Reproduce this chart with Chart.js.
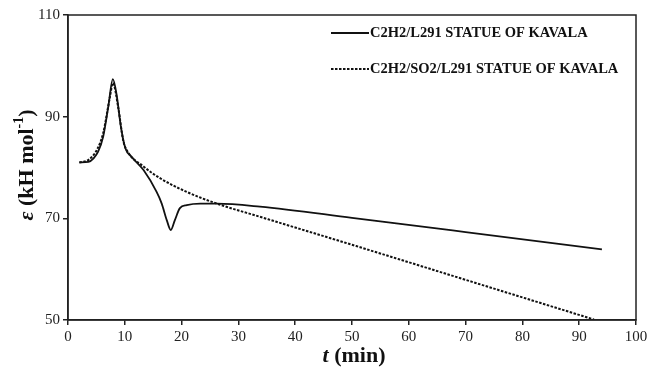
<!DOCTYPE html>
<html lang="en">
<head>
    <meta charset="UTF-8">
    <title>Activation energy vs time</title>
    <script src="https://cdn.jsdelivr.net/npm/chart.js"></script>
    <style>
        body { margin: 0; background: white; }
        #wrap { width: 654px; height: 373px; }
    </style>
</head>
<body>
<div id="wrap"><canvas id="chart"></canvas></div>
<script>
    // values: t (min) and epsilon (kH mol-1)
    const seriesNames = ['C2H2/L291 STATUE OF KAVALA', 'C2H2/SO2/L291 STATUE OF KAVALA'];
    const solidT = [2, 3.6, 4.5, 5.3, 6.2, 7.1, 7.9, 8.6, 9.3, 10.1, 11.2, 13.3, 15.6, 16.5, 17.4, 18.1, 18.8, 19.7, 20.9, 23.3, 26.2, 33.8, 50, 70, 94];
    const solidE = [81, 81.1, 81.8, 83.1, 86.1, 92.0, 97.4, 94.0, 88.1, 83.8, 82.1, 79.5, 75.2, 72.9, 69.6, 67.7, 69.6, 72.0, 72.6, 72.9, 72.9, 72.3, 70.1, 67.3, 63.9];
    const dashT = [2, 3.6, 5.1, 6.2, 7.4, 7.9, 8.9, 9.7, 10.3, 13.3, 16.2, 20.9, 26.2, 33.8, 50, 70, 92.6];
    const dashE = [81, 81.5, 83.5, 86.8, 94, 96.6, 91.4, 85.4, 83.5, 80.2, 77.9, 75.2, 72.9, 70.3, 64.8, 57.9, 50.1];
    const xTicks = [0, 10, 20, 30, 40, 50, 60, 70, 80, 90, 100];
    const yTicks = [50, 70, 90, 110];

    const serif = '"Liberation Serif", "Times New Roman", serif';

    function pts(xs, ys) {
        return xs.map((x, i) => ({ x: x, y: ys[i] }));
    }

    // frame, axis titles and legend drawn on top of the chart area
    const extras = {
        id: 'extras',
        afterDraw(chart) {
            const ctx = chart.ctx;
            const a = chart.chartArea;
            ctx.save();
            ctx.strokeStyle = '#222';
            ctx.lineWidth = 1.5;
            ctx.strokeRect(a.left, a.top, a.right - a.left, a.bottom - a.top);

            // legend
            ctx.fillStyle = '#111';
            ctx.strokeStyle = '#111';
            ctx.textBaseline = 'middle';
            ctx.font = 'bold 14.5px ' + serif;
            chart.data.datasets.forEach((ds, i) => {
                const y = 33 + i * 36;
                ctx.beginPath();
                ctx.setLineDash(ds.borderDash || []);
                ctx.lineWidth = ds.borderWidth;
                ctx.moveTo(331, y);
                ctx.lineTo(369, y);
                ctx.stroke();
                ctx.setLineDash([]);
                ctx.fillText(ds.label, 370, y);
            });

            // x title: t (min)
            drawParts(ctx, [
                { t: 't', f: 'italic bold 22px ' + serif },
                { t: ' (min)', f: 'bold 22px ' + serif }
            ], 354, 356);

            // y title: epsilon (kH mol-1)
            ctx.translate(27, 165);
            ctx.rotate(-Math.PI / 2);
            drawParts(ctx, [
                { t: 'ε', f: 'italic bold 22px ' + serif },
                { t: ' (kH mol', f: 'bold 22px ' + serif },
                { t: '-1', f: 'bold 14px ' + serif, dy: -8 },
                { t: ')', f: 'bold 22px ' + serif }
            ], 0, 0);
            ctx.restore();
        }
    };

    function drawParts(ctx, parts, cx, cy) {
        let w = 0;
        parts.forEach(p => { ctx.font = p.f; w += ctx.measureText(p.t).width; });
        let x = cx - w / 2;
        ctx.textAlign = 'left';
        ctx.textBaseline = 'middle';
        parts.forEach(p => {
            ctx.font = p.f;
            ctx.fillText(p.t, x, cy + (p.dy || 0));
            x += ctx.measureText(p.t).width;
        });
    }

    new Chart(document.getElementById('chart'), {
        type: 'line',
        data: {
            datasets: [
                {
                    label: seriesNames[0],
                    data: pts(solidT, solidE),
                    borderColor: '#111',
                    borderWidth: 1.8,
                    pointRadius: 0,
                    cubicInterpolationMode: 'monotone'
                },
                {
                    label: seriesNames[1],
                    data: pts(dashT, dashE),
                    borderColor: '#111',
                    borderWidth: 2,
                    borderDash: [2.5, 1.5],
                    pointRadius: 0,
                    cubicInterpolationMode: 'monotone'
                }
            ]
        },
        options: {
            responsive: true,
            maintainAspectRatio: false,
            animation: false,
            layout: { padding: { top: 15, right: 18, left: 0, bottom: 0 } },
            plugins: { legend: { display: false }, tooltip: { enabled: false } },
            scales: {
                x: {
                    type: 'linear',
                    min: 0, max: 100,
                    afterBuildTicks: s => { s.ticks = xTicks.map(v => ({ value: v })); },
                    afterFit: s => { s.height = 53; },
                    grid: { drawOnChartArea: false, drawTicks: true, tickLength: 5, color: '#222', lineWidth: 1.5 },
                    border: { color: '#222', width: 1.5 },
                    ticks: { color: '#222', padding: 3, maxRotation: 0, font: { family: serif, size: 15 } }
                },
                y: {
                    min: 50, max: 110,
                    afterBuildTicks: s => { s.ticks = yTicks.map(v => ({ value: v })); },
                    afterFit: s => { s.width = 68; },
                    grid: { drawOnChartArea: false, drawTicks: true, tickLength: 5, color: '#222', lineWidth: 1.5 },
                    border: { color: '#222', width: 1.5 },
                    ticks: { color: '#222', padding: 3, font: { family: serif, size: 15 } }
                }
            }
        },
        plugins: [extras]
    });
</script>
</body>
</html>
